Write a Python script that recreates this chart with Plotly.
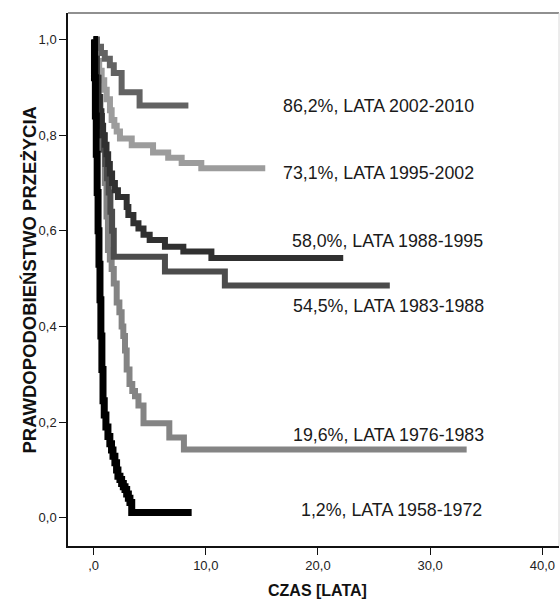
import plotly.graph_objects as go

# ---- data (Kaplan-Meier step curves) ----
t_2002_2010 = [0, 0.3, 0.66, 1.0, 1.45, 1.8, 2.5, 4.1, 8.45]
s_2002_2010 = [1.0, 0.985, 0.972, 0.96, 0.946, 0.93, 0.89, 0.862, 0.862]

t_1995_2002 = [0, 0.15, 0.3, 0.5, 0.72, 0.95, 1.17, 1.46, 1.61, 1.85, 2.06, 2.35, 3.4, 5.3, 6.65, 7.85, 9.6, 15.3]
s_1995_2002 = [1.0, 0.98, 0.955, 0.935, 0.915, 0.895, 0.875, 0.852, 0.832, 0.82, 0.808, 0.793, 0.779, 0.764, 0.753, 0.742, 0.731, 0.731]

t_1988_1995 = [0, 0.1, 0.25, 0.4, 0.55, 0.7, 0.85, 1.0, 1.15, 1.3, 1.45, 1.65, 1.9, 2.17, 2.95, 3.1, 3.55, 4.0, 4.45, 5.0, 6.36, 8.0, 10.5, 22.25]
s_1988_1995 = [1.0, 0.96, 0.92, 0.88, 0.85, 0.82, 0.8, 0.78, 0.76, 0.74, 0.72, 0.70, 0.685, 0.671, 0.65, 0.633, 0.616, 0.605, 0.592, 0.581, 0.567, 0.557, 0.543, 0.543]

t_1983_1988 = [0, 0.15, 0.3, 0.45, 0.6, 0.75, 0.9, 1.05, 1.2, 1.35, 1.5, 1.65, 1.8, 6.36, 11.7, 26.4]
s_1983_1988 = [1.0, 0.96, 0.92, 0.88, 0.84, 0.8, 0.77, 0.74, 0.71, 0.68, 0.64, 0.6, 0.546, 0.515, 0.486, 0.486]

t_1976_1983 = [0, 0.1, 0.2, 0.3, 0.4, 0.5, 0.6, 0.7, 0.84, 1.0, 1.15, 1.28, 1.45, 1.61, 1.8, 2.06, 2.3, 2.5, 2.65, 2.8, 2.95, 3.2, 3.45, 3.69, 4.0, 4.45, 6.75, 8.05, 33.25]
s_1976_1983 = [1.0, 0.97, 0.94, 0.91, 0.88, 0.85, 0.82, 0.8, 0.77, 0.7, 0.63, 0.56, 0.54, 0.52, 0.49, 0.45, 0.43, 0.4, 0.38, 0.35, 0.31, 0.28, 0.265, 0.254, 0.235, 0.198, 0.168, 0.143, 0.143]

t_1958_1972 = [0, 0.08, 0.16, 0.24, 0.32, 0.4, 0.48, 0.57, 0.65, 0.74, 0.84, 0.95, 1.1, 1.28, 1.45, 1.6, 1.73, 1.9, 2.05, 2.17, 2.35, 2.5, 2.65, 2.8, 2.95, 3.1, 3.24, 3.4, 8.74]
s_1958_1972 = [1.0, 0.92, 0.84, 0.76, 0.68, 0.6, 0.53, 0.456, 0.38, 0.31, 0.245, 0.215, 0.19, 0.17, 0.155, 0.142, 0.129, 0.115, 0.1, 0.087, 0.08, 0.072, 0.065, 0.059, 0.05, 0.041, 0.032, 0.011, 0.011]

labels = ["86,2%, LATA 2002-2010", "73,1%, LATA 1995-2002", "58,0%, LATA 1988-1995",
          "54,5%, LATA 1983-1988", "19,6%, LATA 1976-1983", "1,2%, LATA 1958-1972"]
label_x = [16.7, 16.7, 17.5, 17.6, 17.6, 18.3]
label_y = [0.861, 0.7215, 0.5795, 0.443, 0.1724, 0.0173]

x_tickvals = [0, 10, 20, 30, 40]
x_ticktext = [",0", "10,0", "20,0", "30,0", "40,0"]
y_tickvals = [0.0, 0.2, 0.4, 0.6, 0.8, 1.0]
y_ticktext = ["0,0", "0,2", "0,4", "0,6", "0,8", "1,0"]

FONT = "Liberation Sans, Arial, sans-serif"

fig = go.Figure()
curves = [
    (t_1995_2002, s_1995_2002, "#9c9c9c", 6),
    (t_2002_2010, s_2002_2010, "#626262", 6),
    (t_1976_1983, s_1976_1983, "#848484", 6),
    (t_1983_1988, s_1983_1988, "#4c4c4c", 6),
    (t_1988_1995, s_1988_1995, "#303030", 6),
    (t_1958_1972, s_1958_1972, "#000000", 7),
]
for t, s, c, w in curves:
    fig.add_trace(go.Scatter(x=t, y=s, mode="lines", line=dict(color=c, width=w, shape="hv"),
                             hoverinfo="skip", showlegend=False))

for txt, x, y in zip(labels, label_x, label_y):
    fig.add_annotation(x=x, y=y, xref="x", yref="y", text=txt, showarrow=False,
                       xanchor="left", yanchor="middle",
                       font=dict(family=FONT, size=17.8, color="#1a1a1a"))

# axis titles
fig.add_annotation(x=20, y=-0.0826, xref="x", yref="paper", text="<b>CZAS [LATA]</b>",
                   showarrow=False, xanchor="center", yanchor="middle",
                   font=dict(family=FONT, size=16, color="#111"))
fig.add_annotation(x=-0.0774, y=0.5, xref="paper", yref="paper",
                   text="<b>PRAWDOPODOBIEŃSTWO PRZEŻYCIA</b>", textangle=-90,
                   showarrow=False, xanchor="center", yanchor="middle",
                   font=dict(family=FONT, size=18.5, color="#111"))

# frame: top and (faint) right borders
fig.add_shape(type="line", xref="paper", yref="paper", x0=0, x1=1, y0=1, y1=1,
              line=dict(color="#222", width=1.2))
fig.add_shape(type="line", xref="paper", yref="paper", x0=1, x1=1, y0=0, y1=1,
              line=dict(color="#d8d8d8", width=1))

fig.update_layout(
    width=560, height=599,
    margin=dict(l=68, r=1, t=13, b=53),
    plot_bgcolor="white", paper_bgcolor="white",
    font=dict(family=FONT, size=13, color="#222"),
    xaxis=dict(range=[-2.28, 41.48], tickvals=x_tickvals, ticktext=x_ticktext,
               showgrid=False, zeroline=False, showline=True, linecolor="#111", linewidth=1.5,
               ticks="outside", ticklen=7, tickwidth=1.3, tickcolor="#111",
               tickfont=dict(size=13, family=FONT, color="#222")),
    yaxis=dict(range=[-0.0589, 1.0555], tickvals=y_tickvals, ticktext=y_ticktext,
               showgrid=False, zeroline=False, showline=True, linecolor="#111", linewidth=1.5,
               ticks="outside", ticklen=7, tickwidth=1.3, tickcolor="#111",
               tickfont=dict(size=13, family=FONT, color="#222")),
)

fig.write_html("out.html", config={"displayModeBar": False},
               post_script="document.body.style.margin='0px';document.body.style.overflow='hidden';")
